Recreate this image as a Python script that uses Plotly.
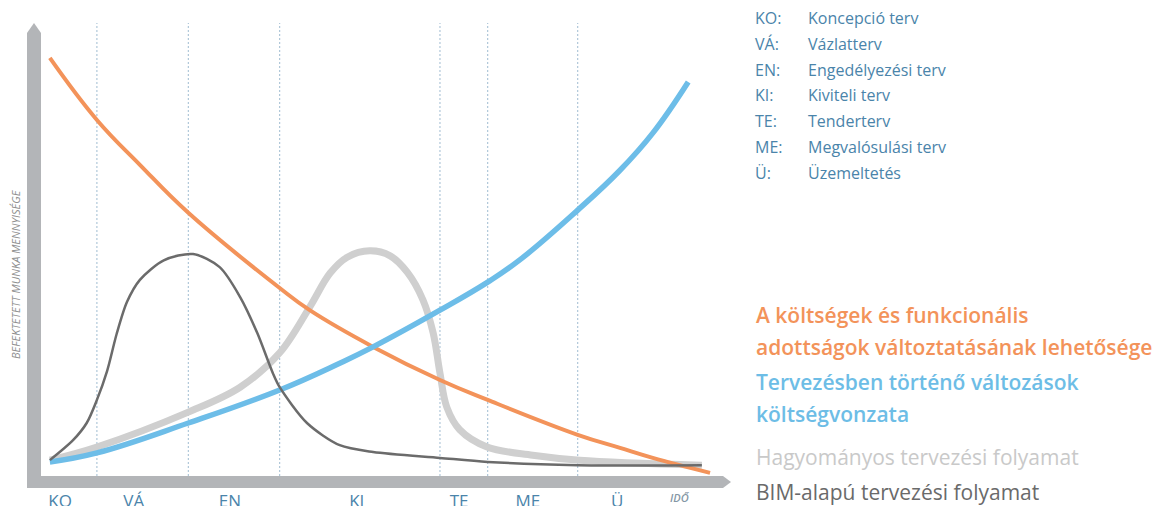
import plotly.graph_objects as go

# Page and inner plot box, in page pixels
W, H = 1169, 506
L, R, T, B = 41, 723, 23, 476

# ---------------------------------------------------------------- data
phase_labels = ["KO", "VÁ", "EN", "KI", "TE", "ME", "Ü"]
phase_names = ["Koncepció terv", "Vázlatterv", "Engedélyezési terv",
               "Kiviteli terv", "Tenderterv", "Megvalósulási terv",
               "Üzemeltetés"]
phase_ticks = [2.8, 13.6, 27.7, 46.3, 61.3, 71.4, 84.5]
phase_bounds = [8.2, 21.6, 35.0, 58.5, 65.5, 78.7]

# Ability to change costs and functional properties
ability_x = [1.3, 8.2, 14.5, 21.6, 35.0, 39.4, 48.7, 58.5, 65.5, 78.7, 84.9, 89.7, 98.1]
ability_y = [92.3, 78.6, 68.7, 58.1, 41.5, 36.6, 28.5, 21.2, 16.8, 9.1, 6.2, 4.0, 0.7]

# Cost of design changes
cost_x = [1.3, 8.2, 21.6, 35.0, 43.8, 48.7, 58.5, 65.5, 70.2, 78.7, 84.9, 89.7, 94.9]
cost_y = [3.1, 5.1, 11.7, 19.0, 24.9, 28.5, 36.6, 42.8, 47.7, 58.7, 67.5, 75.7, 87.0]

# Traditional design process effort
trad_x = [1.3, 8.2, 21.6, 29.2, 35.0, 39.4, 42.4, 44.9, 48.2, 51.2, 53.7, 56.0,
          57.5, 58.5, 59.5, 61.4, 65.4, 72.1, 79.0, 96.9]
trad_y = [3.5, 6.4, 14.1, 19.6, 27.2, 37.3, 44.8, 48.3, 49.7, 48.6, 45.0, 38.9,
          31.6, 22.7, 15.2, 10.2, 6.4, 4.6, 3.5, 2.4]

# BIM-based design process effort
bim_x = [1.3, 4.7, 6.7, 8.2, 9.7, 11.1, 12.6, 14.5, 18.0, 22.3, 26.2, 29.2,
         31.7, 34.0, 35.0, 39.0, 43.8, 48.7, 58.5, 65.5, 78.7, 96.9]
bim_y = [3.5, 7.9, 11.7, 16.8, 23.2, 31.4, 38.4, 43.3, 47.6, 49.0, 46.1, 39.5,
         31.6, 22.7, 19.6, 11.7, 6.8, 5.3, 4.0, 3.1, 2.4, 2.4]

series_text = [
    ("A költségek és funkcionális", "#f3935a", 600, 315),
    ("adottságok változtatásának lehetősége", "#f3935a", 600, 347),
    ("Tervezésben történő változások", "#6dbde6", 600, 382),
    ("költségvonzata", "#6dbde6", 600, 414),
    ("Hagyományos tervezési folyamat", "#c9c9c9", 400, 457),
    ("BIM-alapú tervezési folyamat", "#6a6a6a", 500, 492),
]

FONT = "Open Sans"
ORANGE, BLUE, LIGHT, DARK = "#f3935a", "#6dbde8", "#cfcfcf", "#6b6b6b"
STEEL = "#4a84aa"
BAR = "#b3b5b8"


def px_x(p):
    """Page pixel column -> paper x."""
    return (p - L) / (R - L)


def px_y(p):
    """Page pixel row -> paper y."""
    return (B - p) / (B - T)


def curve(x, y, color, width, smoothing):
    return go.Scatter(x=x, y=y, mode="lines", hoverinfo="skip",
                      line=dict(color=color, width=width, shape="spline",
                                smoothing=smoothing))


fig = go.Figure()
fig.add_trace(curve(trad_x, trad_y, LIGHT, 7, 1.0))
fig.add_trace(curve(ability_x, ability_y, ORANGE, 4, 1.2))
fig.add_trace(curve(cost_x, cost_y, BLUE, 5.5, 1.2))
fig.add_trace(curve(bim_x, bim_y, DARK, 2.5, 0.8))

shapes = []
# dotted phase separators
for xb in phase_bounds:
    shapes.append(dict(type="line", xref="x", yref="paper", x0=xb, x1=xb, y0=0, y1=1,
                       line=dict(color="#9fbcd1", width=1, dash="2px,2px"), layer="below"))

# thick grey axes with pointed ends
yb = (f"M {px_x(27)} {px_y(488)} L {px_x(27)} {px_y(33)} L {px_x(34)} {px_y(23)} "
      f"L {px_x(41)} {px_y(33)} L {px_x(41)} {px_y(488)} Z")
xb_path = (f"M {px_x(27)} {px_y(476)} L {px_x(723)} {px_y(476)} L {px_x(731)} {px_y(482)} "
           f"L {px_x(723)} {px_y(488)} L {px_x(27)} {px_y(488)} Z")
for p in (yb, xb_path):
    shapes.append(dict(type="path", xref="paper", yref="paper", path=p,
                       fillcolor=BAR, line=dict(width=0), layer="below"))

annotations = []
# phase key, top right
for i, (ab, name) in enumerate(zip(phase_labels, phase_names)):
    yy = px_y(18 + i * 25.8)
    annotations.append(dict(xref="paper", yref="paper", x=px_x(753), y=yy,
                            text=ab + ":", showarrow=False, xanchor="left", yanchor="middle",
                            font=dict(family=FONT, size=16, color=STEEL)))
    annotations.append(dict(xref="paper", yref="paper", x=px_x(806), y=yy,
                            text=name, showarrow=False, xanchor="left", yanchor="middle",
                            font=dict(family=FONT, size=16, color=STEEL)))

# series key, bottom right
for text, col, wt, row in series_text:
    annotations.append(dict(xref="paper", yref="paper", x=px_x(754), y=px_y(row),
                            text=text, showarrow=False, xanchor="left", yanchor="middle",
                            font=dict(family=FONT, size=21, color=col, weight=wt)))

# axis titles
annotations.append(dict(xref="paper", yref="paper", x=px_x(15), y=px_y(274),
                        text="<i>BEFEKTETETT MUNKA MENNYISÉGE</i>", textangle=-90,
                        showarrow=False, xanchor="center", yanchor="middle",
                        font=dict(family=FONT, size=11, color="#8e8e8e")))
annotations.append(dict(xref="paper", yref="paper", x=px_x(680), y=px_y(497),
                        text="<i>IDŐ</i>", showarrow=False, xanchor="center", yanchor="middle",
                        font=dict(family=FONT, size=11, color="#8597a6", weight=600)))

fig.update_layout(
    width=W, height=H,
    margin=dict(l=L, r=W - R, t=T, b=H - B, pad=0),
    paper_bgcolor="white", plot_bgcolor="white",
    showlegend=False,
    shapes=shapes, annotations=annotations,
    xaxis=dict(range=[0, 100], showgrid=False, zeroline=False, showline=False,
               tickmode="array", tickvals=phase_ticks, ticktext=phase_labels,
               ticks="", ticklabelstandoff=13, automargin=False,
               tickfont=dict(family=FONT, size=17, color=STEEL)),
    yaxis=dict(range=[0, 100], showgrid=False, zeroline=False, showline=False,
               showticklabels=False, ticks="", automargin=False),
)

fig.write_html("out.html")
